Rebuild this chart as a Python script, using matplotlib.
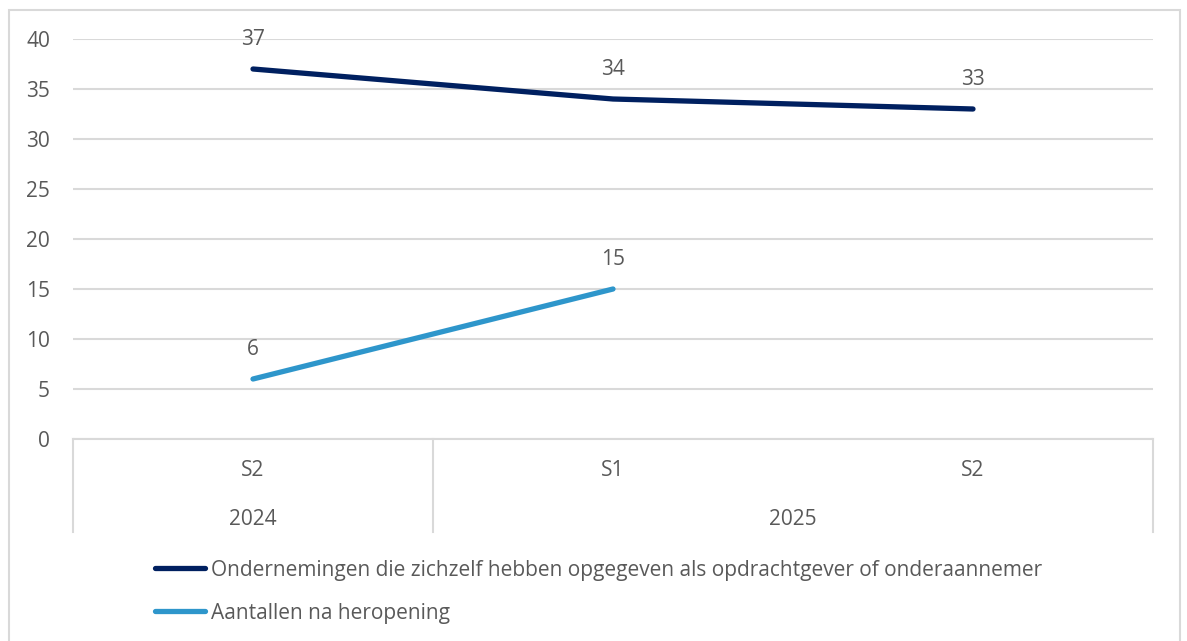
import matplotlib
matplotlib.use("Agg")
import matplotlib.pyplot as plt
from matplotlib.lines import Line2D
from matplotlib.transforms import blended_transform_factory

# data
PERIODS = ["S2", "S1", "S2"]
YEARS = ["2024", "2025", "2025"]
SERIES_MAIN = [37, 34, 33]
SERIES_REOPEN = [6, 15]
LABEL_MAIN = "Ondernemingen die zichzelf hebben opgegeven als opdrachtgever of onderaannemer"
LABEL_REOPEN = "Aantallen na heropening"
Y_TICKS = [0, 5, 10, 15, 20, 25, 30, 35, 40]

COLOR_MAIN = "#002060"
COLOR_REOPEN = "#2e96cb"
COLOR_TEXT = "#595959"
COLOR_GRID = "#d9d9d9"
FS = 15

plt.rcParams["font.family"] = ["Open Sans", "DejaVu Sans"]

W, H = 1187, 641
fig = plt.figure(figsize=(W / 100, H / 100), dpi=100)
fig.patch.set_facecolor("white")

# outer chart border
fig.add_artist(plt.Rectangle((9 / W, -0.05), (1180 - 9) / W, 1.05 - 10 / H,
                             transform=fig.transFigure, fill=False,
                             edgecolor=COLOR_GRID, linewidth=1.5))

left, right, top, bottom = 73, 1153, 39, 439
ax = fig.add_axes([left / W, 1 - bottom / H, (right - left) / W, (bottom - top) / H])

x = list(range(len(PERIODS)))
ax.plot(x, SERIES_MAIN, color=COLOR_MAIN, linewidth=3.8, solid_capstyle="round")
ax.plot(x[:len(SERIES_REOPEN)], SERIES_REOPEN, color=COLOR_REOPEN, linewidth=3.8,
        solid_capstyle="round")

for xi, v in zip(x, SERIES_MAIN):
    ax.annotate(str(v), (xi, v), xytext=(0, 32), textcoords="offset pixels",
                ha="center", va="center_baseline", fontsize=FS, color=COLOR_TEXT)
for xi, v in zip(x, SERIES_REOPEN):
    ax.annotate(str(v), (xi, v), xytext=(0, 32), textcoords="offset pixels",
                ha="center", va="center_baseline", fontsize=FS, color=COLOR_TEXT)

ax.set_xlim(-0.5, len(PERIODS) - 0.5)
ax.set_ylim(0, 40)
ax.set_yticks(Y_TICKS)
ax.set_xticks([])
ax.grid(axis="y", color=COLOR_GRID, linewidth=1.5)
ax.set_axisbelow(True)
for spine in ("top", "right", "left"):
    ax.spines[spine].set_visible(False)
ax.spines["bottom"].set_color(COLOR_GRID)
ax.spines["bottom"].set_linewidth(1.5)
ax.tick_params(axis="y", length=0, pad=16.5, labelsize=FS, labelcolor=COLOR_TEXT)

# multi-level category axis
trans = blended_transform_factory(ax.transData, ax.transAxes)
depth = -(532 - bottom) / (bottom - top)
group_edges = [-0.5]
for i in range(1, len(YEARS)):
    if YEARS[i] != YEARS[i - 1]:
        group_edges.append(i - 0.5)
group_edges.append(len(YEARS) - 0.5)
for e in group_edges:
    ax.add_line(Line2D([e, e], [0, depth], transform=trans, color=COLOR_GRID,
                       linewidth=1.5, clip_on=False))

for xi, p in zip(x, PERIODS):
    ax.text(xi, -(468 - bottom) / (bottom - top), p, transform=trans,
            ha="center", va="center_baseline", fontsize=FS, color=COLOR_TEXT)
for a, b in zip(group_edges[:-1], group_edges[1:]):
    ax.text((a + b) / 2, -(517 - bottom) / (bottom - top), YEARS[int(a + 0.5)],
            transform=trans, ha="center", va="center_baseline", fontsize=FS,
            color=COLOR_TEXT)

# legend
for yy, col, lab in [(568, COLOR_MAIN, LABEL_MAIN), (611, COLOR_REOPEN, LABEL_REOPEN)]:
    fig.add_artist(Line2D([155 / W, 205 / W], [1 - yy / H, 1 - yy / H],
                          transform=fig.transFigure, color=col, linewidth=3.8,
                          solid_capstyle="round"))
    fig.text(211 / W, 1 - yy / H, lab, ha="left", va="center_baseline", fontsize=FS,
             color=COLOR_TEXT)

fig.savefig("out.png", dpi=100, facecolor="white")
